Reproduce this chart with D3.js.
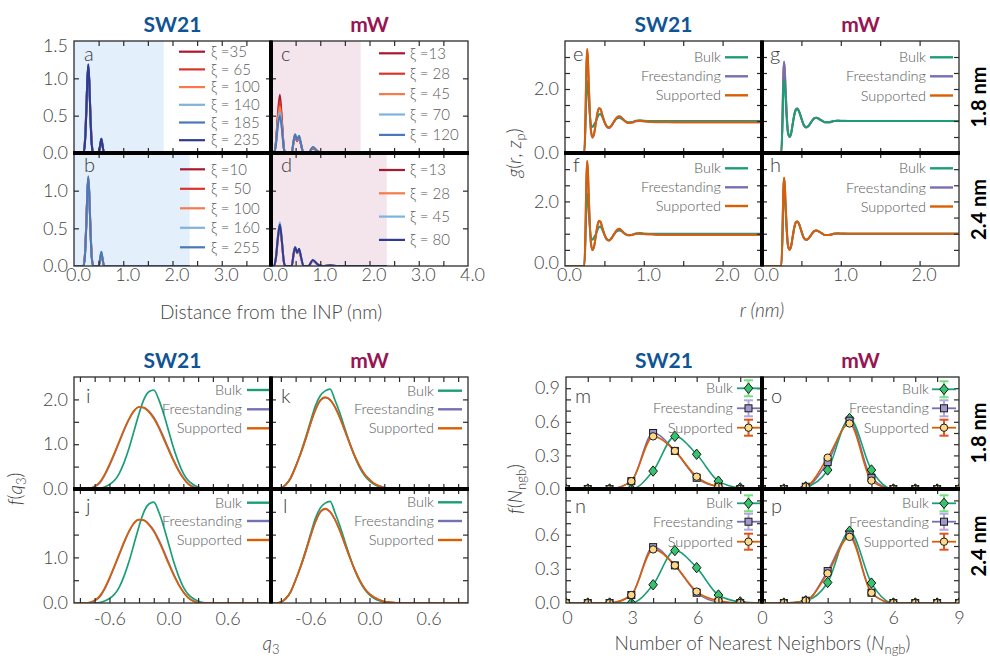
<!DOCTYPE html>
<html><head><meta charset="utf-8">
<script src="https://cdn.jsdelivr.net/npm/d3@7"></script>
<style>
html,body{margin:0;padding:0;background:#fff;}
svg{display:block;}
</style></head><body>
<svg id="chart" width="990" height="656"></svg>
<script>
// ---------------- data ----------------
// Water density profiles vs distance from the INP (nm)
const distX_a = [0, 0.19, 0.22, 0.25, 0.27, 0.29, 0.31, 0.33, 0.36, 0.39, 0.50, 0.53, 0.555, 0.58, 0.61, 1.82];
const distX_b = [0, 0.19, 0.22, 0.25, 0.27, 0.29, 0.31, 0.33, 0.36, 0.39, 0.50, 0.53, 0.555, 0.58, 0.61, 2.35];
const distX_c = [0, 0.06, 0.10, 0.14, 0.18, 0.22, 0.26, 0.29, 0.42, 0.46, 0.49, 0.53, 0.57, 0.61, 0.66, 0.76, 0.85, 0.95, 1.05, 1.20, 1.35, 1.82];
const distX_d = [0, 0.06, 0.10, 0.14, 0.18, 0.22, 0.26, 0.29, 0.42, 0.46, 0.49, 0.53, 0.57, 0.61, 0.66, 0.76, 0.85, 0.95, 1.05, 1.20, 1.35, 2.35];

const xiLabels_a = ["ξ =35", "ξ = 65", "ξ = 100", "ξ = 140", "ξ = 185", "ξ = 235"];
const xiLabels_b = ["ξ =10", "ξ = 50", "ξ = 100", "ξ = 160", "ξ = 255"];
const xiLabels_c = ["ξ =13", "ξ = 28", "ξ = 45", "ξ = 70", "ξ = 120"];
const xiLabels_d = ["ξ =13", "ξ = 28", "ξ = 45", "ξ = 80"];

const dens_a = [
  [0, 0, 0.15, 0.60, 0.95, 1.13, 0.95, 0.60, 0.15, 0, 0, 0.09, 0.16, 0.09, 0, 0],
  [0, 0, 0.14, 0.58, 0.96, 1.15, 0.96, 0.58, 0.14, 0, 0, 0.09, 0.17, 0.09, 0, 0],
  [0, 0, 0.13, 0.56, 0.96, 1.16, 0.96, 0.56, 0.13, 0, 0, 0.10, 0.18, 0.10, 0, 0],
  [0, 0, 0.12, 0.55, 0.97, 1.17, 0.97, 0.55, 0.12, 0, 0, 0.10, 0.19, 0.10, 0, 0],
  [0, 0, 0.12, 0.55, 0.97, 1.18, 0.97, 0.55, 0.12, 0, 0, 0.10, 0.19, 0.10, 0, 0],
  [0, 0, 0.11, 0.54, 0.97, 1.19, 0.97, 0.54, 0.11, 0, 0, 0.10, 0.19, 0.10, 0, 0]
];
const dens_b = [
  [0, 0, 0.14, 0.58, 0.95, 1.14, 0.95, 0.58, 0.14, 0, 0, 0.08, 0.15, 0.08, 0, 0],
  [0, 0, 0.13, 0.57, 0.96, 1.16, 0.96, 0.57, 0.13, 0, 0, 0.09, 0.16, 0.09, 0, 0],
  [0, 0, 0.12, 0.56, 0.96, 1.17, 0.96, 0.56, 0.12, 0, 0, 0.09, 0.17, 0.09, 0, 0],
  [0, 0, 0.12, 0.55, 0.97, 1.18, 0.97, 0.55, 0.12, 0, 0, 0.10, 0.18, 0.10, 0, 0],
  [0, 0, 0.11, 0.54, 0.97, 1.19, 0.97, 0.54, 0.11, 0, 0, 0.10, 0.19, 0.10, 0, 0]
];
const dens_c = [
  [0, 0, 0.15, 0.52, 0.78, 0.45, 0.08, 0, 0, 0.15, 0.21, 0.16, 0.21, 0.11, 0, 0, 0.06, 0.02, 0, 0.01, 0, 0],
  [0, 0, 0.14, 0.48, 0.70, 0.42, 0.08, 0, 0, 0.15, 0.22, 0.17, 0.21, 0.11, 0, 0, 0.07, 0.02, 0, 0.01, 0, 0],
  [0, 0, 0.13, 0.44, 0.62, 0.38, 0.07, 0, 0, 0.16, 0.23, 0.17, 0.22, 0.12, 0, 0, 0.07, 0.02, 0, 0.01, 0, 0],
  [0, 0, 0.12, 0.40, 0.55, 0.35, 0.06, 0, 0, 0.17, 0.24, 0.18, 0.22, 0.12, 0, 0, 0.08, 0.02, 0, 0.01, 0, 0],
  [0, 0, 0.11, 0.37, 0.50, 0.33, 0.06, 0, 0, 0.17, 0.25, 0.18, 0.23, 0.12, 0, 0, 0.08, 0.02, 0, 0.01, 0, 0]
];
const dens_d = [
  [0, 0, 0.10, 0.36, 0.52, 0.32, 0.06, 0, 0, 0.16, 0.24, 0.17, 0.22, 0.11, 0, 0, 0.07, 0.02, 0, 0.01, 0, 0],
  [0, 0, 0.11, 0.37, 0.54, 0.33, 0.06, 0, 0, 0.16, 0.25, 0.17, 0.22, 0.11, 0, 0, 0.07, 0.02, 0, 0.01, 0, 0],
  [0, 0, 0.12, 0.40, 0.58, 0.35, 0.06, 0, 0, 0.17, 0.25, 0.18, 0.22, 0.12, 0, 0, 0.07, 0.02, 0, 0.01, 0, 0],
  [0, 0, 0.11, 0.38, 0.55, 0.34, 0.06, 0, 0, 0.17, 0.25, 0.18, 0.23, 0.12, 0, 0, 0.08, 0.02, 0, 0.01, 0, 0]
];

// Radial distribution functions g(r, z_p), r in nm
const rGrid = [0, 0.23, 0.245, 0.26, 0.27, 0.28, 0.29, 0.30, 0.315, 0.33, 0.35, 0.37, 0.39, 0.41, 0.43, 0.45, 0.47, 0.50, 0.53, 0.56,
  0.59, 0.62, 0.66, 0.69, 0.72, 0.76, 0.80, 0.85, 0.90, 0.95, 1.0, 1.1, 1.2, 1.4, 1.7, 2.0, 2.5];
const gr_SW21_bulk = [0, 0, 0, 0.8, 1.8, 2.24, 2.1, 1.7, 1.2, 0.88, 0.81, 0.90, 0.98, 1.10, 1.20, 1.22, 1.14, 0.97, 0.84, 0.80,
  0.86, 0.97, 1.08, 1.10, 1.07, 1.00, 0.96, 0.97, 1.01, 1.02, 1.01, 1.0, 1.0, 1.0, 1.0, 1.0, 1.0];
const gr_SW21_free18 = [0, 0, 0, 1.1, 2.5, 3.2, 2.95, 2.25, 1.25, 0.66, 0.48, 0.60, 0.90, 1.22, 1.39, 1.38, 1.22, 0.98, 0.82, 0.78,
  0.85, 0.97, 1.11, 1.14, 1.10, 1.00, 0.94, 0.95, 0.99, 1.00, 0.99, 0.97, 0.96, 0.96, 0.96, 0.96, 0.96];
const gr_SW21_sup18 = [0, 0, 0, 1.2, 2.6, 3.26, 3.0, 2.3, 1.3, 0.70, 0.50, 0.62, 0.92, 1.24, 1.40, 1.38, 1.22, 0.98, 0.83, 0.79,
  0.86, 0.98, 1.12, 1.15, 1.10, 1.00, 0.94, 0.95, 1.00, 1.01, 0.99, 0.97, 0.97, 0.96, 0.96, 0.96, 0.96];
const gr_SW21_free24 = [0, 0, 0, 1.1, 2.5, 3.22, 2.96, 2.26, 1.26, 0.67, 0.49, 0.61, 0.90, 1.22, 1.38, 1.37, 1.21, 0.98, 0.82, 0.79,
  0.86, 0.97, 1.11, 1.14, 1.09, 1.00, 0.95, 0.96, 1.00, 1.00, 0.99, 0.98, 0.97, 0.97, 0.97, 0.97, 0.97];
const gr_SW21_sup24 = [0, 0, 0, 1.2, 2.6, 3.26, 3.0, 2.3, 1.3, 0.70, 0.50, 0.62, 0.92, 1.24, 1.40, 1.38, 1.22, 0.98, 0.83, 0.79,
  0.86, 0.98, 1.12, 1.15, 1.10, 1.00, 0.95, 0.96, 1.00, 1.01, 0.99, 0.98, 0.97, 0.97, 0.97, 0.97, 0.97];
const gr_mW_bulk = [0, 0, 0, 0.9, 2.0, 2.3, 2.1, 1.65, 1.0, 0.62, 0.52, 0.62, 0.90, 1.18, 1.34, 1.38, 1.30, 1.08, 0.88, 0.81,
  0.85, 0.95, 1.07, 1.10, 1.07, 1.01, 0.96, 0.96, 0.99, 1.01, 1.01, 1.0, 1.0, 1.0, 1.0, 1.0, 1.0];
const gr_mW_free18 = [0, 0, 0, 1.1, 2.4, 2.86, 2.57, 1.96, 1.15, 0.65, 0.50, 0.62, 0.92, 1.20, 1.36, 1.39, 1.30, 1.08, 0.87, 0.80,
  0.84, 0.95, 1.08, 1.10, 1.07, 1.01, 0.96, 0.96, 0.99, 1.01, 1.0, 1.0, 1.0, 1.0, 1.0, 1.0, 1.0];
const gr_mW_sup18 = [0, 0, 0, 1.1, 2.4, 2.84, 2.55, 1.95, 1.15, 0.65, 0.50, 0.62, 0.92, 1.20, 1.36, 1.39, 1.30, 1.08, 0.87, 0.80,
  0.84, 0.95, 1.08, 1.10, 1.07, 1.01, 0.96, 0.96, 0.99, 1.01, 1.0, 1.0, 1.0, 1.0, 1.0, 1.0, 1.0];
const gr_mW_free24 = [0, 0, 0, 1.0, 2.3, 2.72, 2.47, 1.9, 1.12, 0.64, 0.50, 0.62, 0.92, 1.20, 1.36, 1.38, 1.30, 1.08, 0.87, 0.81,
  0.85, 0.95, 1.08, 1.10, 1.07, 1.01, 0.96, 0.96, 0.99, 1.01, 1.0, 1.0, 1.0, 1.0, 1.0, 1.0, 1.0];
const gr_mW_sup24 = [0, 0, 0, 1.05, 2.35, 2.74, 2.48, 1.9, 1.12, 0.64, 0.50, 0.62, 0.92, 1.20, 1.36, 1.38, 1.30, 1.08, 0.87, 0.81,
  0.85, 0.95, 1.08, 1.10, 1.07, 1.01, 0.96, 0.96, 0.99, 1.01, 1.0, 1.0, 1.0, 1.0, 1.0, 1.0, 1.0];

// Distributions of the local order parameter q3
const q3Grid = [-1.0, -0.95, -0.9, -0.85, -0.8, -0.75, -0.7, -0.65, -0.6, -0.55, -0.5, -0.45, -0.4, -0.35, -0.3, -0.25, -0.2, -0.15, -0.1, -0.05,
  0.0, 0.05, 0.1, 0.15, 0.2, 0.25, 0.3, 0.35, 0.4, 0.45, 0.5, 0.55, 0.6, 0.65, 0.7, 0.75, 0.8, 0.85, 0.9, 0.95, 1.0];
const q3_SW21_bulk = [0, 0, 0, 0, 0, 0, 0.01, 0.045, 0.10, 0.19, 0.35, 0.60, 0.92, 1.30, 1.68, 2.00, 2.17, 2.21, 2.00, 1.68,
  1.30, 0.92, 0.60, 0.35, 0.19, 0.10, 0.045, 0.01, 0, 0, 0, 0, 0, 0, 0, 0, 0, 0, 0, 0, 0];
const q3_SW21_free18 = [0, 0, 0, 0, 0.01, 0.05, 0.13, 0.30, 0.52, 0.78, 1.05, 1.32, 1.56, 1.74, 1.83, 1.82, 1.74, 1.60, 1.40, 1.16,
  0.90, 0.65, 0.43, 0.25, 0.12, 0.05, 0.01, 0, 0, 0, 0, 0, 0, 0, 0, 0, 0, 0, 0, 0, 0];
const q3_SW21_sup18 = [0, 0, 0, 0, 0.01, 0.06, 0.15, 0.32, 0.55, 0.80, 1.07, 1.34, 1.57, 1.75, 1.83, 1.81, 1.72, 1.57, 1.37, 1.12,
  0.87, 0.63, 0.41, 0.24, 0.11, 0.04, 0.01, 0, 0, 0, 0, 0, 0, 0, 0, 0, 0, 0, 0, 0, 0];
const q3_SW21_free24 = [0, 0, 0, 0, 0.01, 0.05, 0.13, 0.30, 0.53, 0.79, 1.06, 1.33, 1.57, 1.75, 1.83, 1.82, 1.73, 1.59, 1.39, 1.15,
  0.89, 0.64, 0.42, 0.24, 0.12, 0.05, 0.01, 0, 0, 0, 0, 0, 0, 0, 0, 0, 0, 0, 0, 0, 0];
const q3_SW21_sup24 = [0, 0, 0, 0, 0.01, 0.06, 0.15, 0.32, 0.55, 0.81, 1.08, 1.35, 1.58, 1.76, 1.83, 1.81, 1.72, 1.57, 1.36, 1.12,
  0.86, 0.62, 0.41, 0.24, 0.11, 0.04, 0.01, 0, 0, 0, 0, 0, 0, 0, 0, 0, 0, 0, 0, 0, 0];
const q3_mW_bulk = [0, 0, 0.02, 0.09, 0.24, 0.50, 0.80, 1.14, 1.50, 1.85, 2.08, 2.19, 2.23, 1.98, 1.69, 1.35, 1.02, 0.72, 0.48, 0.30,
  0.18, 0.10, 0.05, 0.02, 0.01, 0, 0, 0, 0, 0, 0, 0, 0, 0, 0, 0, 0, 0, 0, 0, 0];
const q3_mW_free18 = [0, 0, 0.02, 0.10, 0.25, 0.50, 0.78, 1.10, 1.45, 1.76, 1.97, 2.04, 1.99, 1.83, 1.59, 1.30, 1.01, 0.74, 0.51, 0.33,
  0.21, 0.12, 0.07, 0.03, 0.02, 0.01, 0, 0, 0, 0, 0, 0, 0, 0, 0, 0, 0, 0, 0, 0, 0];
const q3_mW_sup18 = [0, 0, 0.02, 0.10, 0.25, 0.50, 0.78, 1.10, 1.45, 1.76, 1.98, 2.05, 1.99, 1.82, 1.58, 1.30, 1.01, 0.74, 0.51, 0.33,
  0.21, 0.12, 0.07, 0.03, 0.02, 0.01, 0, 0, 0, 0, 0, 0, 0, 0, 0, 0, 0, 0, 0, 0, 0];
const q3_mW_free24 = [0, 0, 0.02, 0.10, 0.25, 0.51, 0.79, 1.11, 1.46, 1.77, 1.99, 2.06, 2.00, 1.83, 1.58, 1.29, 1.00, 0.73, 0.50, 0.32,
  0.20, 0.12, 0.07, 0.03, 0.02, 0.01, 0, 0, 0, 0, 0, 0, 0, 0, 0, 0, 0, 0, 0, 0, 0];
const q3_mW_sup24 = [0, 0, 0.02, 0.10, 0.25, 0.51, 0.79, 1.11, 1.46, 1.77, 2.00, 2.07, 2.00, 1.83, 1.58, 1.29, 1.00, 0.73, 0.50, 0.32,
  0.20, 0.12, 0.07, 0.03, 0.02, 0.01, 0, 0, 0, 0, 0, 0, 0, 0, 0, 0, 0, 0, 0, 0, 0];

// Distributions of the number of nearest neighbours
const nngb = [0, 1, 2, 3, 4, 5, 6, 7, 8, 9];
const nn_SW21_bulk18 = [0, 0, 0, 0.0, 0.16, 0.47, 0.31, 0.07, 0.01, 0];
const nn_SW21_free18 = [0, 0, 0, 0.07, 0.50, 0.34, 0.10, 0.02, 0, 0];
const nn_SW21_sup18  = [0, 0, 0, 0.07, 0.47, 0.34, 0.11, 0.02, 0, 0];
const nn_SW21_bulk24 = [0, 0, 0, 0.0, 0.16, 0.46, 0.31, 0.07, 0.01, 0];
const nn_SW21_free24 = [0, 0, 0, 0.07, 0.49, 0.33, 0.09, 0.01, 0, 0];
const nn_SW21_sup24  = [0, 0, 0, 0.07, 0.47, 0.33, 0.10, 0.02, 0, 0];
const nn_mW_bulk18 = [0, 0, 0.02, 0.17, 0.63, 0.17, 0.0, 0, 0, 0];
const nn_mW_free18 = [0, 0, 0.02, 0.24, 0.61, 0.10, 0.0, 0, 0, 0];
const nn_mW_sup18  = [0, 0, 0.02, 0.28, 0.585, 0.075, 0, 0, 0, 0];
const nn_mW_bulk24 = [0, 0, 0.02, 0.18, 0.63, 0.175, 0, 0, 0, 0];
const nn_mW_free24 = [0, 0, 0.02, 0.28, 0.60, 0.09, 0, 0, 0, 0];
const nn_mW_sup24  = [0, 0, 0.02, 0.26, 0.58, 0.09, 0, 0, 0, 0];

const systemLabels = ["Bulk", "Freestanding", "Supported"];
const modelTitles = ["SW21", "mW"];
const thicknessLabels = ["1.8 nm", "2.4 nm"];
const filmExtent = [1.82, 2.35];

// tick labels
const distXLabels_left = [0, 1, 2, 3];
const distXLabels_right = [0, 1, 2, 3, 4];
const distYLabels_top = [0, 0.5, 1.0, 1.5];
const distYLabels_bot = [0, 0.5, 1.0];
const rXLabels = [0, 1, 2];
const grYLabels = [0, 2];
const q3XLabels = [-0.6, 0, 0.6];
const q3YLabels_top = [0, 1, 2];
const q3YLabels_bot = [0, 1];
const nnXLabels_left = [0, 3, 6];
const nnXLabels_right = [0, 3, 6, 9];
const nnYLabels_top = [0, 0.3, 0.6, 0.9];
const nnYLabels_bot = [0, 0.3, 0.6];

// ---------------- styles ----------------
const FONT = "Lato, 'Open Sans', 'DejaVu Sans', sans-serif";
const TICK_C = "#444";
const LEG_C = "#5a5a5a";
const FRAME_C = "#2b2b2b";
const xiColors6 = ["#a8192e", "#d7352a", "#f67a4a", "#7fb3dc", "#4a78b8", "#2f3a93"];
const xiColorsB = ["#a8192e", "#d7352a", "#f67a4a", "#7fb3dc", "#4a78b8"];
const xiColorsD = ["#a8192e", "#f67a4a", "#7fb3dc", "#2f3a93"];
const sysColors = ["#1b9e77", "#7570b3", "#d95f02"];
const markerFill = ["#35c46c", "#a097cc", "#fdd889"];
const errColor = ["#76e07c", "#b0a8dc", "#e2541a"];
const titleColors = ["#0f5494", "#961654"];

const svg = d3.select("#chart");
const defs = svg.append("defs");
const layerBack = svg.append("g");
const layerPlot = svg.append("g");
const layerFront = svg.append("g");
const layerTop = svg.append("g");
let clipN = 0;

function panel(o) {
  const x = d3.scaleLinear().domain(o.xd).range([o.x0, o.x1]);
  const y = d3.scaleLinear().domain(o.yd).range([o.y1, o.y0]);
  const id = "clip" + (clipN++);
  defs.append("clipPath").attr("id", id).append("rect")
    .attr("x", o.x0).attr("y", o.y0).attr("width", o.x1 - o.x0).attr("height", o.y1 - o.y0);
  const plot = layerPlot.append("g").attr("clip-path", `url(#${id})`);
  return Object.assign({}, o, { x, y, plot });
}

function frame(p, xt, yt) {
  layerFront.append("rect").attr("x", p.x0).attr("y", p.y0)
    .attr("width", p.x1 - p.x0).attr("height", p.y1 - p.y0)
    .attr("fill", "none").attr("stroke", FRAME_C).attr("stroke-width", 1.3);
  const tk = (axis, tr) => layerFront.append("g").attr("transform", tr)
    .call(axis.tickFormat("").tickSizeInner(-5).tickSizeOuter(0))
    .call(g => { g.select(".domain").remove(); g.selectAll("line").attr("stroke", FRAME_C).attr("stroke-width", 1.2); });
  tk(d3.axisBottom(p.x).tickValues(xt), `translate(0,${p.y1})`);
  tk(d3.axisTop(p.x).tickValues(xt), `translate(0,${p.y0})`);
  tk(d3.axisLeft(p.y).tickValues(yt), `translate(${p.x0},0)`);
  tk(d3.axisRight(p.y).tickValues(yt), `translate(${p.x1},0)`);
}

function styleLabels(g) {
  g.select(".domain").remove();
  g.selectAll("text").attr("font-family", FONT).attr("font-size", 18)
    .attr("font-weight", 300).attr("fill", TICK_C);
}
function xLabels(p, vals, fmt, pad, dx) {
  layerTop.append("g").attr("transform", `translate(${dx || 0},${p.y1})`)
    .call(d3.axisBottom(p.x).tickValues(vals).tickFormat(fmt).tickSize(0).tickPadding(pad))
    .call(styleLabels);
}
// lift: how far the bottom label is raised so it clears the x tick labels below
function yLabels(p, vals, fmt, lift) {
  layerTop.append("g").attr("transform", `translate(${p.x0},0)`)
    .call(d3.axisLeft(p.y).tickValues(vals).tickFormat(fmt).tickSize(0).tickPadding(6))
    .call(styleLabels)
    .call(g => g.selectAll(".tick").filter(d => p.y(d) < p.y0 + 4).attr("transform", `translate(0,${p.y0 + 5})`))
    .call(g => g.selectAll(".tick").filter(d => lift && p.y(d) > p.y1 - 1).attr("transform", `translate(0,${p.y1 - lift})`));
}
const f1 = d => d.toFixed(1);
const f0 = d => d.toFixed(0);

function drawLine(p, xs, ys, color, width, curve) {
  const pts = xs.map((v, i) => [v, ys[i]]);
  p.plot.append("path").datum(pts)
    .attr("d", d3.line().x(d => p.x(d[0])).y(d => p.y(d[1])).curve(curve || d3.curveMonotoneX))
    .attr("fill", "none").attr("stroke", color).attr("stroke-width", width)
    .attr("stroke-linejoin", "round");
}

function panelLetter(p, s, dx, dy) {
  layerTop.append("text").attr("x", p.x0 + dx).attr("y", p.y0 + dy)
    .attr("font-family", FONT).attr("font-weight", 300).attr("font-size", 20)
    .attr("fill", "#3a3a3a").text(s);
}

function dividers(x0, xm, x1, y0, ym, y1) {
  layerTop.append("line").attr("x1", xm).attr("x2", xm).attr("y1", y0 - 0.5).attr("y2", y1 + 0.5)
    .attr("stroke", "#000").attr("stroke-width", 4);
  layerTop.append("line").attr("x1", x0 - 1).attr("x2", x1 + 1).attr("y1", ym).attr("y2", ym)
    .attr("stroke", "#000").attr("stroke-width", 4);
}

function title(text, cx, y, color) {
  layerTop.append("text").attr("x", cx).attr("y", y).attr("text-anchor", "middle")
    .attr("font-family", FONT).attr("font-weight", 700).attr("font-size", 21)
    .attr("fill", color).text(text);
}

function sideLabel(text, cx, cy) {
  layerTop.append("text").attr("transform", `translate(${cx},${cy}) rotate(-90)`)
    .attr("text-anchor", "middle").attr("dy", "0.35em")
    .attr("font-family", FONT).attr("font-weight", 700).attr("font-size", 20)
    .attr("fill", "#000").text(text);
}

function xiLegend(p, labels, colors, lx1, lx2, tx, y0, step) {
  labels.forEach((lab, i) => {
    const yy = y0 + i * step;
    layerTop.append("line").attr("x1", lx1).attr("x2", lx2).attr("y1", yy).attr("y2", yy)
      .attr("stroke", colors[i]).attr("stroke-width", 2.2);
    layerTop.append("text").attr("x", tx).attr("y", yy).attr("dy", "0.35em")
      .attr("font-family", FONT).attr("font-weight", 300).attr("font-size", 15)
      .attr("fill", LEG_C).text(lab);
  });
}

function sysLegend(tEnd, lx1, lx2, ys, withMarkers) {
  systemLabels.forEach((lab, i) => {
    const yy = ys[i];
    layerTop.append("text").attr("x", tEnd).attr("y", yy).attr("dy", "0.35em")
      .attr("text-anchor", "end").attr("font-family", FONT).attr("font-weight", 300)
      .attr("font-size", 14.5).attr("fill", LEG_C).text(lab);
    layerTop.append("line").attr("x1", lx1).attr("x2", lx2).attr("y1", yy).attr("y2", yy)
      .attr("stroke", sysColors[i]).attr("stroke-width", withMarkers ? 1.8 : 2.4);
    if (withMarkers) {
      const cx = (lx1 + lx2) / 2;
      const eg = layerTop.append("g").attr("stroke", errColor[i]).attr("stroke-width", 2);
      eg.append("line").attr("x1", cx).attr("x2", cx).attr("y1", yy - 8).attr("y2", yy + 8);
      eg.append("line").attr("x1", cx - 4.5).attr("x2", cx + 4.5).attr("y1", yy - 8).attr("y2", yy - 8);
      eg.append("line").attr("x1", cx - 4.5).attr("x2", cx + 4.5).attr("y1", yy + 8).attr("y2", yy + 8);
      marker(layerTop, i, cx, yy);
    }
  });
}

const diamondPath = "M0,-5.2L4.3,0L0,5.2L-4.3,0Z";
function marker(g, kind, cx, cy) {
  if (kind === 0) {
    g.append("path").attr("d", diamondPath).attr("transform", `translate(${cx},${cy})`)
      .attr("fill", markerFill[0]).attr("stroke", "#1a1a1a").attr("stroke-width", 1);
  } else if (kind === 1) {
    g.append("rect").attr("x", cx - 3.5).attr("y", cy - 3.5).attr("width", 7).attr("height", 7)
      .attr("fill", markerFill[1]).attr("stroke", "#1a1a1a").attr("stroke-width", 1);
  } else {
    g.append("circle").attr("cx", cx).attr("cy", cy).attr("r", 3.7)
      .attr("fill", markerFill[2]).attr("stroke", "#1a1a1a").attr("stroke-width", 1);
  }
}

function band(p, to, color) {
  layerBack.append("rect").attr("x", p.x(p.xd[0])).attr("y", p.y0)
    .attr("width", p.x(to) - p.x(p.xd[0])).attr("height", p.y1 - p.y0).attr("fill", color);
}

// ---------------- layout ----------------
const G1 = { x0: 74, xm: 271, x1: 468, y0: 41, ym: 153, y1: 266 };
const G2 = { x0: 565, xm: 762, x1: 959, y0: 41, ym: 153, y1: 266 };
const G3 = { x0: 74, xm: 271, x1: 468, y0: 377, ym: 489, y1: 603 };
const G4 = { x0: 566, xm: 762, x1: 959, y0: 377, ym: 489, y1: 603 };

function quad(G, xdL, xdR, yd) {
  return [
    panel({ x0: G.x0, x1: G.xm, y0: G.y0, y1: G.ym, xd: xdL, yd }),
    panel({ x0: G.x0, x1: G.xm, y0: G.ym, y1: G.y1, xd: xdL, yd }),
    panel({ x0: G.xm, x1: G.x1, y0: G.y0, y1: G.ym, xd: xdR, yd }),
    panel({ x0: G.xm, x1: G.x1, y0: G.ym, y1: G.y1, xd: xdR, yd })
  ];
}

// ---- a-d: density profiles ----
{
  const [pa, pb, pc, pd] = quad(G1, [0, 4], [0, 4], [0, 1.5]);
  band(pa, filmExtent[0], "#e3f0fb");
  band(pb, filmExtent[1], "#e3f0fb");
  band(pc, filmExtent[0], "#f3e5eb");
  band(pd, filmExtent[1], "#f3e5eb");
  dens_a.forEach((s, i) => drawLine(pa, distX_a, s, xiColors6[i], 2));
  dens_b.forEach((s, i) => drawLine(pb, distX_b, s, xiColorsB[i], 2));
  dens_c.forEach((s, i) => drawLine(pc, distX_c, s, xiColorsB[i], 2));
  dens_d.forEach((s, i) => drawLine(pd, distX_d, s, xiColorsD[i], 2));
  const xt = d3.range(0.5, 4, 0.5), yt = [0.5, 1.0];
  [pa, pb, pc, pd].forEach(p => frame(p, xt, yt));
  xLabels(pb, distXLabels_left, f1, 2, 4);
  xLabels(pd, distXLabels_right, f1, 2, 4);
  yLabels(pa, distYLabels_top, f1);
  yLabels(pb, distYLabels_bot, f1);
  panelLetter(pa, "a", 10, 20); panelLetter(pb, "b", 10, 19);
  panelLetter(pc, "c", 10, 20); panelLetter(pd, "d", 10, 19);
  xiLegend(pa, xiLabels_a, xiColors6, 179, 205, 211, 51.7, 17.7);
  xiLegend(pb, xiLabels_b, xiColorsB, 180, 205, 211, 169.3, 19.5);
  xiLegend(pc, xiLabels_c, xiColorsB, 379, 405, 410, 53.3, 20.4);
  xiLegend(pd, xiLabels_d, xiColorsD, 379, 405, 410, 170, 23.3);
  dividers(G1.x0, G1.xm, G1.x1, G1.y0, G1.ym, G1.y1);
  title(modelTitles[0], (G1.x0 + G1.xm) / 2, 32, titleColors[0]);
  title(modelTitles[1], (G1.xm + G1.x1) / 2, 32, titleColors[1]);
  layerTop.append("text").attr("x", (G1.x0 + G1.x1) / 2).attr("y", 319).attr("text-anchor", "middle")
    .attr("font-family", FONT).attr("font-weight", 300).attr("font-size", 19).attr("fill", TICK_C)
    .text("Distance from the INP (nm)");
}

// ---- e-h: radial distribution functions ----
{
  const [pe, pf, pg, ph] = quad(G2, [0, 2.5], [0, 2.5], [0, 3.5]);
  const sets = [
    [pe, [gr_SW21_bulk, gr_SW21_free18, gr_SW21_sup18], [0, 1, 2]],
    [pf, [gr_SW21_bulk, gr_SW21_free24, gr_SW21_sup24], [0, 1, 2]],
    [pg, [gr_mW_bulk, gr_mW_free18, gr_mW_sup18], [2, 1, 0]],
    [ph, [gr_mW_bulk, gr_mW_free24, gr_mW_sup24], [0, 1, 2]]
  ];
  sets.forEach(([p, series, order]) => order.forEach(k => drawLine(p, rGrid, series[k], sysColors[k], 2)));
  const xt = [0.5, 1.0, 1.5, 2.0], yt = d3.range(0.5, 3.5, 0.5);
  [pe, pf, pg, ph].forEach(p => frame(p, xt, yt));
  xLabels(pf, rXLabels, f1, 2, 4);
  xLabels(ph, rXLabels, f1, 2, 4);
  yLabels(pe, grYLabels, f1);
  yLabels(pf, grYLabels, f1, 3);
  panelLetter(pe, "e", 8, 20); panelLetter(pf, "f", 8, 19);
  panelLetter(pg, "g", 8, 20); panelLetter(ph, "h", 8, 19);
  sysLegend(721, 725, 748, [57.3, 76.3, 95.3], false);
  sysLegend(721, 725, 748, [168.3, 187.3, 206], false);
  sysLegend(926, 930, 953, [57.3, 76.3, 95.5], false);
  sysLegend(926, 930, 953, [168.3, 187.5, 206.5], false);
  dividers(G2.x0, G2.xm, G2.x1, G2.y0, G2.ym, G2.y1);
  title(modelTitles[0], (G2.x0 + G2.xm) / 2, 32, titleColors[0]);
  title(modelTitles[1], (G2.xm + G2.x1) / 2, 32, titleColors[1]);
  sideLabel(thicknessLabels[0], 979, (G2.y0 + G2.ym) / 2);
  sideLabel(thicknessLabels[1], 979, (G2.ym + G2.y1) / 2);
  const yl = layerTop.append("text").attr("transform", `translate(521,${G2.ym}) rotate(-90)`)
    .attr("text-anchor", "middle").attr("font-family", FONT).attr("font-weight", 300)
    .attr("font-size", 19).attr("fill", TICK_C);
  yl.append("tspan").attr("font-style", "italic").text("g");
  yl.append("tspan").text("(");
  yl.append("tspan").attr("font-style", "italic").text("r");
  yl.append("tspan").text(", ");
  yl.append("tspan").attr("font-style", "italic").text("z");
  yl.append("tspan").attr("font-size", 13).attr("dy", 4).text("p");
  yl.append("tspan").attr("dy", -4).text(")");
  const xl = layerTop.append("text").attr("x", (G2.x0 + G2.x1) / 2).attr("y", 317).attr("text-anchor", "middle")
    .attr("font-family", FONT).attr("font-weight", 300).attr("font-size", 19).attr("fill", TICK_C)
    .attr("font-style", "italic");
  xl.text("r (nm)");
}

// ---- i-l: q3 distributions ----
{
  const [pi, pj, pk, pl] = quad(G3, [-0.96, 1.04], [-1, 1], [0, 2.5]);
  const sets = [
    [pi, [q3_SW21_bulk, q3_SW21_free18, q3_SW21_sup18]],
    [pj, [q3_SW21_bulk, q3_SW21_free24, q3_SW21_sup24]],
    [pk, [q3_mW_bulk, q3_mW_free18, q3_mW_sup18]],
    [pl, [q3_mW_bulk, q3_mW_free24, q3_mW_sup24]]
  ];
  sets.forEach(([p, series]) => [0, 1, 2].forEach(k => drawLine(p, q3Grid, series[k], sysColors[k], 1.7)));
  const xtL = [-0.9, -0.75, -0.6, -0.45, -0.3, -0.15, 0, 0.15, 0.3, 0.45, 0.6, 0.75, 0.9];
  const yt = [0.5, 1.0, 1.5, 2.0];
  [pi, pj, pk, pl].forEach(p => frame(p, xtL, yt));
  xLabels(pj, q3XLabels, f1, 9, 0);
  xLabels(pl, q3XLabels, f1, 9, 0);
  yLabels(pi, q3YLabels_top, f1);
  yLabels(pj, q3YLabels_bot, f1);
  panelLetter(pi, "i", 12, 26); panelLetter(pj, "j", 12, 24);
  panelLetter(pk, "k", 10, 26); panelLetter(pl, "l", 12, 24);
  sysLegend(242, 247, 269, [390, 409.3, 428.3], false);
  sysLegend(242, 247, 269, [502.7, 521, 540], false);
  sysLegend(434, 438, 462, [390.7, 409.3, 428.3], false);
  sysLegend(434, 438, 462, [502.3, 521, 540], false);
  dividers(G3.x0, G3.xm, G3.x1, G3.y0, G3.ym, G3.y1);
  title(modelTitles[0], (G3.x0 + G3.xm) / 2, 368, titleColors[0]);
  title(modelTitles[1], (G3.xm + G3.x1) / 2, 368, titleColors[1]);
  const yl = layerTop.append("text").attr("transform", `translate(22,${G3.ym}) rotate(-90)`)
    .attr("text-anchor", "middle").attr("font-family", FONT).attr("font-weight", 300)
    .attr("font-size", 19).attr("fill", TICK_C);
  yl.append("tspan").attr("font-style", "italic").text("f");
  yl.append("tspan").text("(");
  yl.append("tspan").attr("font-style", "italic").text("q");
  yl.append("tspan").attr("font-size", 13).attr("dy", 4).text("3");
  yl.append("tspan").attr("dy", -4).text(")");
  const xl = layerTop.append("text").attr("x", (G3.x0 + G3.x1) / 2).attr("y", 650).attr("text-anchor", "middle")
    .attr("font-family", FONT).attr("font-weight", 300).attr("font-size", 19).attr("fill", TICK_C);
  xl.append("tspan").attr("font-style", "italic").text("q");
  xl.append("tspan").attr("font-size", 13).attr("dy", 4).text("3");
}

// ---- m-p: nearest-neighbour distributions ----
{
  const [pm, pn, po, pp] = quad(G4, [0, 9], [0, 9], [0, 1.0]);
  const sets = [
    [pm, [nn_SW21_bulk18, nn_SW21_free18, nn_SW21_sup18]],
    [pn, [nn_SW21_bulk24, nn_SW21_free24, nn_SW21_sup24]],
    [po, [nn_mW_bulk18, nn_mW_free18, nn_mW_sup18]],
    [pp, [nn_mW_bulk24, nn_mW_free24, nn_mW_sup24]]
  ];
  sets.forEach(([p, series]) => {
    [1, 0, 2].forEach(k => drawLine(p, nngb, series[k], sysColors[k], 1.6));
    [0, 1, 2].forEach(k => nngb.forEach((n, i) => marker(p.plot, k, p.x(n), p.y(series[k][i]))));
  });
  const xt = [1, 2, 3, 4, 5, 6, 7, 8], yt = d3.range(0.1, 1.0, 0.1);
  [pm, pn, po, pp].forEach(p => frame(p, xt, yt));
  xLabels(pn, nnXLabels_left, f0, 8, 1);
  xLabels(pp, nnXLabels_right, f0, 8, 0);
  yLabels(pm, nnYLabels_top, f1);
  yLabels(pn, nnYLabels_bot, f1);
  panelLetter(pm, "m", 9, 26); panelLetter(pn, "n", 9, 24);
  panelLetter(po, "o", 9, 26); panelLetter(pp, "p", 9, 24);
  sysLegend(733, 737, 760, [388.3, 408.3, 427.7], true);
  sysLegend(733, 737, 760, [503.3, 521.7, 541.7], true);
  sysLegend(929, 932, 956, [389.3, 408.3, 427.7], true);
  sysLegend(929, 932, 956, [503.3, 521.7, 541.7], true);
  dividers(G4.x0, G4.xm, G4.x1, G4.y0, G4.ym, G4.y1);
  title(modelTitles[0], (G4.x0 + G4.xm) / 2, 368, titleColors[0]);
  title(modelTitles[1], (G4.xm + G4.x1) / 2, 368, titleColors[1]);
  sideLabel(thicknessLabels[0], 979, (G4.y0 + G4.ym) / 2);
  sideLabel(thicknessLabels[1], 979, (G4.ym + G4.y1) / 2);
  const yl = layerTop.append("text").attr("transform", `translate(522,${G4.ym}) rotate(-90)`)
    .attr("text-anchor", "middle").attr("font-family", FONT).attr("font-weight", 300)
    .attr("font-size", 19).attr("fill", TICK_C);
  yl.append("tspan").attr("font-style", "italic").text("f");
  yl.append("tspan").text("(");
  yl.append("tspan").attr("font-style", "italic").text("N");
  yl.append("tspan").attr("font-size", 13).attr("dy", 4).text("ngb");
  yl.append("tspan").attr("dy", -4).text(")");
  const xl = layerTop.append("text").attr("x", (G4.x0 + G4.x1) / 2).attr("y", 650).attr("text-anchor", "middle")
    .attr("font-family", FONT).attr("font-weight", 300).attr("font-size", 19).attr("fill", TICK_C);
  xl.append("tspan").text("Number of Nearest Neighbors (");
  xl.append("tspan").attr("font-style", "italic").text("N");
  xl.append("tspan").attr("font-size", 13).attr("dy", 4).text("ngb");
  xl.append("tspan").attr("dy", -4).text(")");
}
</script>
</body></html>
